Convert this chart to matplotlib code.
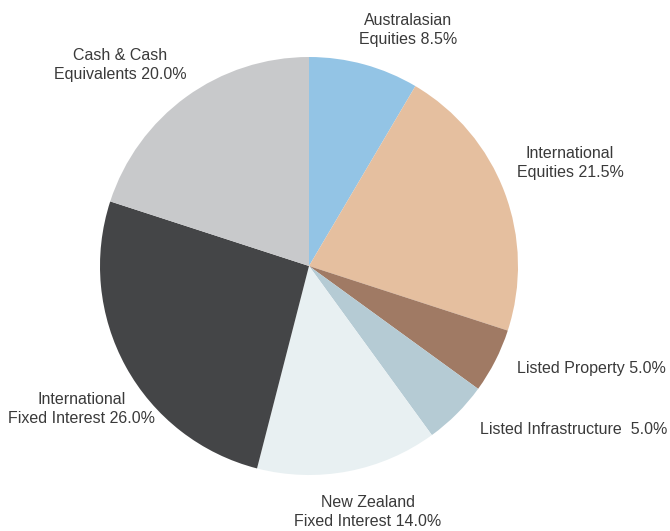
import matplotlib
matplotlib.use("Agg")
import matplotlib.pyplot as plt

# asset allocation
labels = ["Australasian\nEquities 8.5%", "International\nEquities 21.5%",
          "Listed Property 5.0%", "Listed Infrastructure  5.0%",
          "New Zealand\nFixed Interest 14.0%", "International\nFixed Interest 26.0%",
          "Cash & Cash\nEquivalents 20.0%"]
shares = [8.5, 21.5, 5.0, 5.0, 14.0, 26.0, 20.0]
colors = ["#93c4e5", "#e5bf9f", "#a07a64", "#b5cbd4", "#e8f0f2", "#444547", "#c8c9cb"]

# label placement in figure pixels (x, y from top, horizontal alignment)
label_pos = [(408, 30, "center"), (570, 163, "center"), (517, 369, "left"),
             (480, 429, "left"), (368, 512, "center"), (82, 409, "center"),
             (120, 65, "center")]

W, H = 670, 531
fig = plt.figure(figsize=(W / 100, H / 100), dpi=100)
cx, cy, r = 309, 266, 209
ax = fig.add_axes([(cx - r) / W, (H - cy - r) / H, 2 * r / W, 2 * r / H])
ax.pie(shares, colors=colors, startangle=90, counterclock=False, radius=1,
       wedgeprops=dict(linewidth=0))
ax.set_xlim(-1, 1)
ax.set_ylim(-1, 1)
ax.set_aspect("equal")
ax.axis("off")

for text, (x, y, ha) in zip(labels, label_pos):
    fig.text(x / W, 1 - y / H, text, ha=ha, va="center", fontsize=11.5,
             color="#3a3a3a", family="Liberation Sans", linespacing=1.4)

fig.savefig("out.png", dpi=100)
